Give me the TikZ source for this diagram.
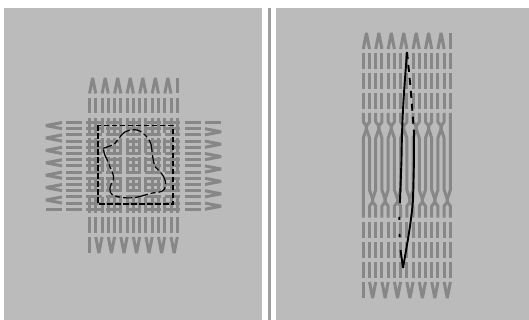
\documentclass[tikz,border=0pt]{standalone}
\definecolor{panelgray}{HTML}{BBBBBB}
\definecolor{threadgray}{HTML}{878787}
\tikzset{
  thread/.style={draw=threadgray,line width=3pt,line join=bevel},
  cutline/.style={draw=black,line width=1.4pt},
  rimline/.style={draw=black,line width=1.7pt,dash pattern=on 5.5pt off 2.5pt}
}
\begin{document}
\begin{tikzpicture}[x=1pt,y=-1pt]
\useasboundingbox (0,0) rectangle (529,320);
\fill[white] (0,0) rectangle (529,320);
\fill[panelgray] (4,8) rectangle (262,320);
\fill[panelgray] (276,8) rectangle (529,320);
\fill[panelgray!85!black] (268,8) rectangle (271,320);
% --- left figure: vertical threads
\foreach \i in {0,...,14}{
  \pgfmathsetmacro{\xx}{89.5+6.27*\i}
  \foreach \yy in {98,118,138,157,177,197,217}{
    \draw[thread] (\xx,\yy) -- (\xx,\yy+15.5);
  }
}
\foreach \i in {0,...,6}{
  \pgfmathsetmacro{\xa}{89.5+12.54*\i}
  \pgfmathsetmacro{\xb}{\xa+6.27}
  \pgfmathsetmacro{\xc}{\xa+3.13}
  \draw[thread] (\xa,93.5) -- (\xc,78) -- (\xb,93.5);
  \pgfmathsetmacro{\xd}{\xa+6.27}
  \pgfmathsetmacro{\xe}{\xd+6.27}
  \pgfmathsetmacro{\xf}{\xd+3.13}
  \draw[thread] (\xd,237) -- (\xf,253) -- (\xe,237);
}
\draw[thread] (177.3,78) -- (177.3,93.5);
\draw[thread] (89.5,237) -- (89.5,252.5);
% --- left figure: horizontal threads
\foreach \i in {0,...,14}{
  \pgfmathsetmacro{\yy}{122.5+6.2*\i}
  \foreach \xx in {66,86,106,125.5,145,164.5,185}{
    \draw[thread] (\xx,\yy) -- (\xx+15.5,\yy);
  }
}
\foreach \i in {0,...,6}{
  \pgfmathsetmacro{\ya}{122.5+12.4*\i}
  \pgfmathsetmacro{\yb}{\ya+6.2}
  \pgfmathsetmacro{\yc}{\ya+3.1}
  \draw[thread] (62,\ya) -- (46,\yc) -- (62,\yb);
  \pgfmathsetmacro{\yd}{\ya+6.2}
  \pgfmathsetmacro{\ye}{\yd+6.2}
  \pgfmathsetmacro{\yf}{\yd+3.1}
  \draw[thread] (205,\yd) -- (221,\yf) -- (205,\ye);
}
\draw[thread] (46,209.3) -- (62,209.3);
\draw[thread] (205,122.5) -- (221,122.5);
% --- left figure: cut lines
\draw[rimline] (97.8,125.5) rectangle (172.8,204.3);
\begin{scope}[shift={(90,115)},x=0.3333pt,y=-0.3333pt]
  \draw[cutline,line width=1.2pt,dash pattern=on 9pt off 3pt on 5pt off 3pt on 13pt off 3pt]
    (40,100) .. controls (58,94) and (68,90) .. (75,85)
    .. controls (85,72) and (92,62) .. (103,52)
    .. controls (120,42) and (145,38) .. (165,60)
    .. controls (178,72) and (184,85) .. (185,100)
    .. controls (187,115) and (188,135) .. (195,155)
    .. controls (208,168) and (222,180) .. (226,198)
    .. controls (230,220) and (222,230) .. (205,232)
    .. controls (185,233) and (172,238) .. (155,243)
    .. controls (130,252) and (90,250) .. (68,240)
    .. controls (55,232) and (58,215) .. (70,195)
    .. controls (75,180) and (62,165) .. (52,135)
    .. controls (44,120) and (40,112) .. (40,100);
\end{scope}
% --- right figure: threads
\foreach \i in {0,...,14}{
  \pgfmathsetmacro{\xx}{363.3+6.22*\i}
  \foreach \yy in {53,73,93,222,242,262}{
    \draw[thread] (\xx,\yy) -- (\xx,\yy+16);
  }
  \pgfmathtruncatemacro{\ju}{floor(\i/2)*2}
  \pgfmathsetmacro{\cu}{\i==14 ? \xx : 363.3+6.22*(\ju+0.5)}
  \pgfmathtruncatemacro{\jl}{floor((\i-1)/2)*2+1}
  \pgfmathsetmacro{\cl}{\i==0 ? \xx : 363.3+6.22*(\jl+0.5)}
  \draw[thread] (\xx,113) -- (\xx,122) -- (\cu,126) -- (\cu,129) -- (\xx,138) -- (\xx,190) -- (\cl,199) -- (\cl,202) -- (\xx,206) -- (\xx,217.5);
}
\foreach \i in {0,...,6}{
  \pgfmathsetmacro{\xa}{363.3+12.44*\i}
  \pgfmathsetmacro{\xb}{\xa+6.22}
  \pgfmathsetmacro{\xc}{\xa+3.11}
  \draw[thread] (\xa,49) -- (\xc,33) -- (\xb,49);
  \pgfmathsetmacro{\xd}{\xa+6.22}
  \pgfmathsetmacro{\xe}{\xd+6.22}
  \pgfmathsetmacro{\xf}{\xd+3.11}
  \draw[thread] (\xd,282) -- (\xf,298) -- (\xe,282);
}
\draw[thread] (450.4,33) -- (450.4,49);
\draw[thread] (363.3,282) -- (363.3,297.5);
% --- right figure: cut lens
\draw[cutline,line width=1.9pt] (407,52) .. controls (405,80) and (402,110) .. (401.5,160) -- (400,200);
\draw[cutline,line width=1.9pt,dash pattern=on 3pt off 14pt] (400,200) .. controls (399,215) and (399,235) .. (400.5,250);
\draw[cutline,line width=1.9pt] (400.5,250) -- (403,268);
\draw[cutline,line width=1.9pt,dash pattern=on 7pt off 6pt] (407,52) .. controls (410,80) and (412,105) .. (414,133);
\draw[cutline,line width=1.9pt] (414,133) -- (414,160) -- (413,200);
\draw[cutline,line width=1.9pt] (413,200) .. controls (411,225) and (406,250) .. (403,268);
\end{tikzpicture}
\end{document}
